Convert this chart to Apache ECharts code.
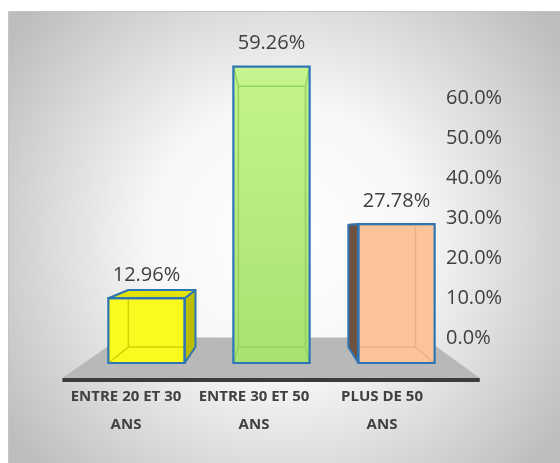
<!DOCTYPE html>
<html>
<head>
<meta charset="utf-8">
<script src="https://cdn.jsdelivr.net/npm/echarts@6/dist/echarts.min.js"></script>
<style>
  html, body { margin: 0; padding: 0; background: #fff; }
  #chart { width: 560px; height: 463px; }
</style>
</head>
<body>
<div id="chart"></div>
<script>
// données
const categories = ['ENTRE 20 ET 30\nANS', 'ENTRE 30 ET 50\nANS', 'PLUS DE 50\nANS']
const values = [12.96, 59.26, 27.78]
const axisMin = 0
const axisMax = 60
const axisStep = 10

// couleurs des barres : face, côté, dessus, arêtes internes
const palette = [
  { face: '#fafa1e', side: '#bcbc05', top: '#e2e20c', inner: '#d2d200' },
  { face: ['#c6f48e', '#a8e272'], side: '#8fc65c', top: '#b8ec80', inner: '#96d262' },
  { face: '#fbc49b', side: '#6d5242', top: '#f0b88e', inner: '#e9b189' }
]
const EDGE = '#2e75b6'
const TEXT = '#404040'
const VP = [275, 230] // point de fuite
const DEPTH = 0.88 // profondeur des barres
const FLOOR_FRONT = 1.113
const FLOOR_BACK = 0.808
const BAR_RATIO = 0.61

function proj(p, s) {
  return [VP[0] + s * (p[0] - VP[0]), VP[1] + s * (p[1] - VP[1])]
}

function faceFill(c, y0, y1) {
  if (Array.isArray(c)) {
    return new echarts.graphic.LinearGradient(0, 0, 0, 1, [
      { offset: 0, color: c[0] },
      { offset: 1, color: c[1] }
    ])
  }
  return c
}

function renderFloor(params, api) {
  const cs = params.coordSys
  const yb = api.coord([0, 0])[1]
  const xl = cs.x
  const xr = cs.x + cs.width
  const fl = proj([xl, yb], FLOOR_FRONT)
  const fr = proj([xr, yb], FLOOR_FRONT)
  const bl = proj([xl, yb], FLOOR_BACK)
  const br = proj([xr, yb], FLOOR_BACK)
  return {
    type: 'group',
    children: [
      {
        type: 'polygon',
        shape: { points: [fl, fr, br, bl] },
        style: { fill: '#b8b8b8' }
      },
      {
        type: 'line',
        shape: { x1: fl[0], y1: fl[1] + 2, x2: fr[0], y2: fr[1] + 2 },
        style: { stroke: '#3c3c3c', lineWidth: 4 }
      }
    ]
  }
}

function renderBar(params, api) {
  const i = params.dataIndex
  const col = palette[i]
  const val = api.value(1)
  const base = api.coord([api.value(0), 0])
  const top = api.coord([api.value(0), val])
  const w = api.size([1, 0])[0] * BAR_RATIO
  const x0 = base[0] - w / 2
  const x1 = base[0] + w / 2
  const yt = top[1]
  const yb = base[1]
  const f = { tl: [x0, yt], tr: [x1, yt], br: [x1, yb], bl: [x0, yb] }
  const b = {
    tl: proj(f.tl, DEPTH), tr: proj(f.tr, DEPTH),
    br: proj(f.br, DEPTH), bl: proj(f.bl, DEPTH)
  }
  const faces = []
  if (VP[0] > x1) faces.push({ pts: [f.tr, b.tr, b.br, f.br], fill: col.side })
  if (VP[0] < x0) faces.push({ pts: [f.tl, b.tl, b.bl, f.bl], fill: col.side })
  if (VP[1] < yt) faces.push({ pts: [f.tl, b.tl, b.tr, f.tr], fill: col.top })

  const children = []
  // face avant
  children.push({
    type: 'rect',
    shape: { x: x0, y: yt, width: w, height: yb - yt },
    style: { fill: faceFill(col.face) }
  })
  // arêtes cachées (transparence)
  children.push({
    type: 'polyline',
    shape: { points: [b.tl, b.tr, b.br, b.bl, b.tl] },
    style: { stroke: col.inner, lineWidth: 1.5, fill: null }
  })
  ;['tl', 'tr', 'br', 'bl'].forEach(k => {
    children.push({
      type: 'line',
      shape: { x1: f[k][0], y1: f[k][1], x2: b[k][0], y2: b[k][1] },
      style: { stroke: col.inner, lineWidth: 1.5 }
    })
  })
  // côtés visibles
  faces.forEach(fc => {
    children.push({
      type: 'polygon',
      shape: { points: fc.pts },
      style: { fill: fc.fill, stroke: EDGE, lineWidth: 2, lineJoin: 'round' }
    })
  })
  children.push({
    type: 'rect',
    shape: { x: x0, y: yt, width: w, height: yb - yt },
    style: { fill: null, stroke: EDGE, lineWidth: 2.2 }
  })
  // étiquette de valeur
  children.push({
    type: 'text',
    x: base[0],
    y: yt - 23,
    style: {
      text: val.toFixed(2) + '%',
      fill: TEXT,
      font: '20px "Open Sans"',
      align: 'center',
      verticalAlign: 'middle'
    }
  })
  return { type: 'group', children: children }
}

const chart = echarts.init(document.getElementById('chart'))
chart.setOption({
  animation: false,
  graphic: [
    {
      type: 'rect',
      z: -10,
      silent: true,
      shape: { x: 8.5, y: 11.5, width: 552, height: 452 },
      style: {
        fill: new echarts.graphic.RadialGradient(0.5, 0.5, 0.75, [
          { offset: 0, color: '#ffffff' },
          { offset: 0.4, color: '#f7f7f7' },
          { offset: 1, color: '#bdbdbd' }
        ]),
        stroke: '#c4c4c4',
        lineWidth: 1
      }
    }
  ],
  grid: [
    { left: 84, top: 63, width: 375, height: 300 },
    { left: 430, top: 98, width: 8, height: 240 },
    { left: 62, top: 370, width: 384, height: 9 }
  ],
  xAxis: [
    { gridIndex: 0, type: 'category', data: categories, show: false },
    { gridIndex: 1, type: 'value', show: false },
    {
      gridIndex: 2,
      type: 'category',
      data: categories,
      axisLine: { show: false },
      axisTick: { show: false },
      axisLabel: {
        interval: 0,
        margin: 4,
        color: TEXT,
        fontFamily: 'Open Sans',
        fontWeight: 'bold',
        fontSize: 15,
        lineHeight: 28
      }
    }
  ],
  yAxis: [
    { gridIndex: 0, type: 'value', min: axisMin, max: axisMax, show: false },
    {
      gridIndex: 1,
      type: 'value',
      position: 'right',
      min: axisMin,
      max: axisMax,
      interval: axisStep,
      axisLine: { show: false },
      axisTick: { show: false },
      splitLine: { show: false },
      axisLabel: {
        margin: 8,
        color: TEXT,
        fontFamily: 'Open Sans',
        fontSize: 20,
        formatter: v => v.toFixed(1) + '%'
      }
    },
    { gridIndex: 2, type: 'value', show: false }
  ],
  series: [
    {
      type: 'custom',
      xAxisIndex: 0,
      yAxisIndex: 0,
      z: 1,
      silent: true,
      renderItem: renderFloor,
      data: [[0, 0]]
    },
    {
      type: 'custom',
      xAxisIndex: 0,
      yAxisIndex: 0,
      z: 2,
      renderItem: renderBar,
      encode: { x: 0, y: 1 },
      data: values.map((v, i) => [i, v])
    }
  ]
})
</script>
</body>
</html>
